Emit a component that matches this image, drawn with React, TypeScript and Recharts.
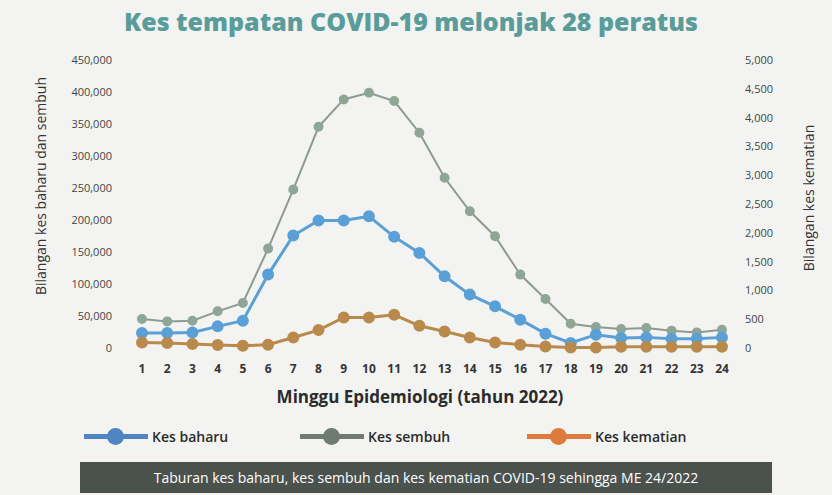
import { LineChart, Line, XAxis, YAxis } from "recharts";

const weeks = ["1","2","3","4","5","6","7","8","9","10","11","12","13","14","15","16","17","18","19","20","21","22","23","24"];
const kesBaharu = [23500,23500,24400,33800,42700,114700,175700,199100,199100,205900,173700,148600,112000,83400,65100,44300,22400,7800,20800,15600,16600,14500,14500,16600];
const kesSembuh = [45400,41600,42700,57300,70400,155300,247700,345700,388400,398900,385800,336400,266000,213700,174600,114700,76700,38000,32800,29700,31300,27100,24400,28600];
const kesKematian = [97,87,69,52,40,57,183,311,529,529,576,386,287,183,97,57,28,10,10,20,20,20,20,20];
const leftTicks = [0,50000,100000,150000,200000,250000,300000,350000,400000,450000];
const rightTicks = [0,500,1000,1500,2000,2500,3000,3500,4000,4500,5000];

const data = weeks.map((w, i) => ({
  week: w,
  baharu: kesBaharu[i],
  sembuh: kesSembuh[i],
  kematian: kesKematian[i],
}));

const BLUE = "#5aa0d6";
const GRAY = "#8d9a93";
const BROWN = "#b98a4c";
const font = "'Open Sans', sans-serif";

const fmt = (v: number) => v.toLocaleString("en-US");

function LegendItem({ color, label, x }: { color: string; label: string; x: number }) {
  return (
    <div style={{ position: "absolute", left: x, top: 426, height: 20, display: "flex", alignItems: "center" }}>
      <div style={{ position: "relative", width: 64, height: 20 }}>
        <div style={{ position: "absolute", left: 0, top: 8, width: 64, height: 5, background: color }} />
        <div style={{ position: "absolute", left: 23, top: 2, width: 17, height: 17, borderRadius: 9, background: color }} />
      </div>
      <span style={{ marginLeft: 4, fontFamily: font, fontWeight: 600, fontSize: 14, color: "#2b2b2b" }}>{label}</span>
    </div>
  );
}

export default function App() {
  return (
    <div style={{ position: "absolute", left: 0, top: 0, width: 832, height: 495, background: "#f3f4f2", overflow: "hidden" }}>
      <div style={{ position: "absolute", left: 0, top: 4, width: 822, textAlign: "center", fontFamily: font, fontWeight: 800, fontSize: 25, color: "#5a9c9a" }}>
        Kes tempatan COVID-19 melonjak 28 peratus
      </div>
      <div style={{ position: "absolute", left: 40, top: 186, width: 0, height: 0 }}>
        <div style={{ position: "absolute", transform: "translate(-50%, -50%) rotate(-90deg)", whiteSpace: "nowrap", fontFamily: font, fontSize: 14, color: "#333" }}>
          Bilangan kes baharu dan sembuh
        </div>
      </div>
      <div style={{ position: "absolute", left: 808, top: 198, width: 0, height: 0 }}>
        <div style={{ position: "absolute", transform: "translate(-50%, -50%) rotate(-90deg)", whiteSpace: "nowrap", fontFamily: font, fontSize: 14, color: "#333" }}>
          Bilangan kes kematian
        </div>
      </div>
      <div style={{ position: "absolute", left: 0, top: 0 }}>
        <LineChart width={832} height={380} data={data} margin={{ top: 60, right: 0, bottom: 2, left: 0 }}>
          <XAxis
            dataKey="week"
            padding={{ left: 12, right: 12 }}
            axisLine={false}
            tickLine={false}
            tickMargin={10}
            interval={0}
            height={30}
            tick={{ fill: "#333", fontSize: 12, fontWeight: 700, fontFamily: font }}
          />
          <YAxis
            yAxisId="left"
            domain={[0, 450000]}
            ticks={leftTicks}
            width={130}
            axisLine={false}
            tickLine={false}
            tickMargin={12}
            tickFormatter={fmt}
            tick={{ fill: "#444", fontSize: 11, fontFamily: font }}
          />
          <YAxis
            yAxisId="right"
            orientation="right"
            domain={[0, 5000]}
            ticks={rightTicks}
            width={98}
            axisLine={false}
            tickLine={false}
            tickMargin={5}
            tickFormatter={fmt}
            tick={{ fill: "#444", fontSize: 11, fontFamily: font, textAnchor: "start" }}
          />
          <Line yAxisId="left" type="linear" dataKey="sembuh" stroke={GRAY} strokeWidth={2} dot={{ r: 4, fill: "#8fa697", stroke: "#8fa697" }} isAnimationActive={false} />
          <Line yAxisId="left" type="linear" dataKey="baharu" stroke={BLUE} strokeWidth={3} dot={{ r: 4.5, fill: BLUE, stroke: BLUE }} isAnimationActive={false} />
          <Line yAxisId="right" type="linear" dataKey="kematian" stroke={BROWN} strokeWidth={3} dot={{ r: 4.5, fill: BROWN, stroke: BROWN }} isAnimationActive={false} />
        </LineChart>
      </div>
      <div style={{ position: "absolute", left: 0, top: 385, width: 840, textAlign: "center", fontFamily: font, fontWeight: 700, fontSize: 17, color: "#2b2b2b" }}>
        Minggu Epidemiologi (tahun 2022)
      </div>
      <LegendItem color="#4f86c2" label="Kes baharu" x={84} />
      <LegendItem color="#6f7a70" label="Kes sembuh" x={300} />
      <LegendItem color="#de7a3c" label="Kes kematian" x={527} />
      <div style={{ position: "absolute", left: 80, top: 462, width: 692, height: 31, background: "#4b524d", color: "#fff", fontFamily: font, fontSize: 14, textAlign: "center", lineHeight: "31px" }}>
        Taburan kes baharu, kes sembuh dan kes kematian COVID-19 sehingga ME 24/2022
      </div>
    </div>
  );
}
